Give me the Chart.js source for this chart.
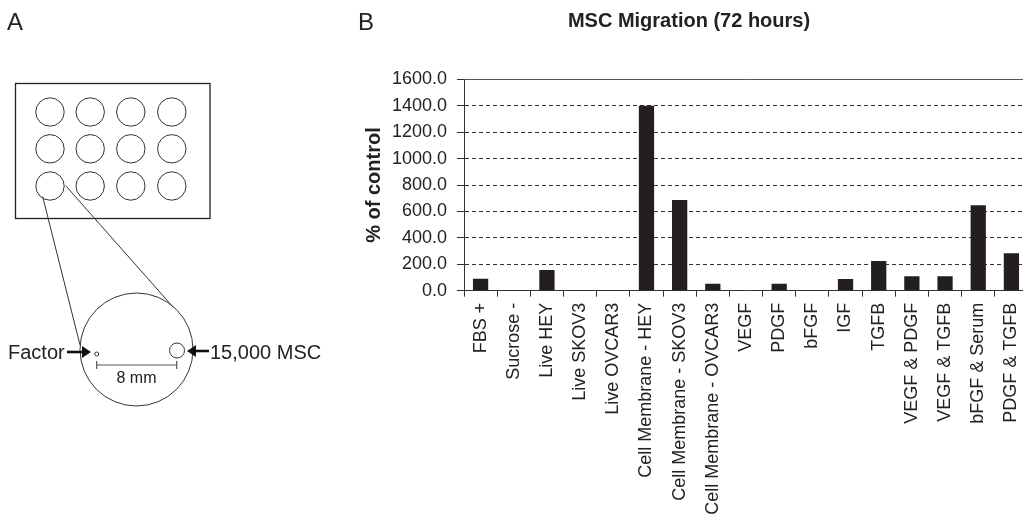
<!DOCTYPE html>
<html>
<head>
<meta charset="utf-8">
<title>MSC Migration</title>
<script src="https://cdn.jsdelivr.net/npm/chart.js@4.4.1/dist/chart.umd.min.js"></script>
<style>
  html, body { margin: 0; padding: 0; background: #fff; overflow: hidden; }
  body { width: 1023px; height: 521px; position: relative; }
  #chartB { position: absolute; left: 350px; top: 0; }
  #panelA { position: absolute; left: 0; top: 0; pointer-events: none; }
</style>
</head>
<body>
<canvas id="chartB" width="700" height="521"></canvas>

<!-- panel A: the well plate sketch -->
<svg id="panelA" width="1023" height="521" font-family="'Liberation Sans', Arial, sans-serif">
  <text x="7" y="30" font-size="24" fill="#222">A</text>
  <text x="358" y="30" font-size="24" fill="#222">B</text>

  <rect x="15.5" y="83.5" width="194.5" height="135" fill="none" stroke="#222" stroke-width="1.3"/>
  <g id="wells" fill="none" stroke="#333" stroke-width="1"></g>

  <line x1="42.7" y1="196.7" x2="80" y2="345" stroke="#333" stroke-width="1"/>
  <line x1="65.7" y1="185.7" x2="173" y2="307" stroke="#333" stroke-width="1"/>
  <circle cx="136.5" cy="349.5" r="56.5" fill="none" stroke="#333" stroke-width="1"/>

  <text x="8" y="359" font-size="20" fill="#222">Factor</text>
  <line x1="67" y1="352" x2="84" y2="352" stroke="#111" stroke-width="2.6"/>
  <polygon points="91,352 82,346 82,358" fill="#111"/>
  <circle cx="96.7" cy="354" r="2" fill="none" stroke="#333" stroke-width="1"/>

  <circle cx="177" cy="350.5" r="7.5" fill="none" stroke="#333" stroke-width="1"/>
  <line x1="194" y1="351" x2="209" y2="351" stroke="#111" stroke-width="2.6"/>
  <polygon points="187,351 196,345 196,357" fill="#111"/>
  <text x="210" y="359" font-size="20" fill="#222">15,000 MSC</text>

  <g stroke="#555" stroke-width="1.2">
    <line x1="96.7" y1="365" x2="176.7" y2="365"/>
    <line x1="96.7" y1="361" x2="96.7" y2="369"/>
    <line x1="176.7" y1="361" x2="176.7" y2="369"/>
  </g>
  <text x="136.5" y="383" font-size="16" fill="#222" text-anchor="middle">8 mm</text>
</svg>

<script>
// ------------------------
// Data
// ------------------------

const categories = [
    'FBS +', 'Sucrose -', 'Live HEY', 'Live SKOV3', 'Live OVCAR3',
    'Cell Membrane - HEY', 'Cell Membrane - SKOV3', 'Cell Membrane - OVCAR3',
    'VEGF', 'PDGF', 'bFGF', 'IGF', 'TGFB',
    'VEGF & PDGF', 'VEGF & TGFB', 'bFGF & Serum', 'PDGF & TGFB'
];
const migration = [90, 0, 157, 0, 0, 1400, 687, 52, 0, 52, 0, 89, 225, 110, 110, 647, 283];
const yTicks = [0, 200, 400, 600, 800, 1000, 1200, 1400, 1600];

// ------------------------
// Panel A wells (3 x 4 plate)
// ------------------------

const wellX = [50, 90.2, 130.8, 171.8];
const wellY = [112, 148.8, 186];
const wells = document.getElementById('wells');
wellY.forEach(cy => {
    wellX.forEach(cx => {
        const c = document.createElementNS('http://www.w3.org/2000/svg', 'circle');
        c.setAttribute('cx', cx);
        c.setAttribute('cy', cy);
        c.setAttribute('r', 14.2);
        wells.appendChild(c);
    });
});

// ------------------------
// Panel B chart
// ------------------------

const FONT = "'Liberation Sans', Arial, sans-serif";
const ctx = document.getElementById('chartB').getContext('2d');

new Chart(ctx, {
    type: 'bar',
    data: {
        labels: categories,
        datasets: [{
            data: migration,
            backgroundColor: '#231f20',
            borderWidth: 0,
            barPercentage: 0.46,
            categoryPercentage: 1
        }]
    },
    options: {
        responsive: false,
        animation: false,
        devicePixelRatio: 1,
        layout: { padding: { left: 0, right: 22, top: 0, bottom: 0 } },
        plugins: {
            legend: { display: false },
            tooltip: { enabled: false },
            title: {
                display: true,
                text: 'MSC Migration (72 hours)',
                color: '#222',
                font: { family: FONT, size: 20, weight: 'bold', lineHeight: 1.2 },
                padding: { top: 9, bottom: 46.3 }
            }
        },
        scales: {
            x: {
                grid: {
                    drawOnChartArea: false,
                    drawTicks: true,
                    tickLength: 6,
                    tickColor: '#333',
                    offset: true
                },
                border: { display: true, color: '#333', width: 1 },
                ticks: {
                    minRotation: 90,
                    maxRotation: 90,
                    autoSkip: false,
                    padding: 6,
                    color: '#222',
                    font: { family: FONT, size: 18 }
                },
                afterFit: scale => {
                    scale.height = 230.3;
                    scale.paddingLeft = 0;
                    scale.paddingRight = 0;
                }
            },
            y: {
                min: yTicks[0],
                max: yTicks[yTicks.length - 1],
                afterBuildTicks: scale => {
                    scale.ticks = yTicks.map(v => ({ value: v }));
                },
                grid: {
                    color: c => c.tick && c.tick.value === 0 ? 'rgba(0,0,0,0)' : (c.tick && c.tick.value === 1600 ? '#555' : '#333'),
                    lineWidth: 1,
                    drawTicks: true,
                    tickLength: 7,
                    tickColor: '#333',
                    tickBorderDash: []
                },
                border: {
                    display: true,
                    color: '#333',
                    width: 1,
                    dash: c => c.tick && c.tick.value === 1600 ? [] : [4, 3]
                },
                ticks: {
                    padding: 10,
                    color: '#222',
                    font: { family: FONT, size: 18 },
                    callback: v => Number(v).toFixed(1)
                },
                title: {
                    display: true,
                    text: '% of control',
                    color: '#222',
                    font: { family: FONT, size: 20, weight: 'bold', lineHeight: 1.2 },
                    padding: { top: 12, bottom: 0 }
                },
                afterFit: scale => {
                    scale.width = 114;
                }
            }
        }
    }
});
</script>
</body>
</html>
